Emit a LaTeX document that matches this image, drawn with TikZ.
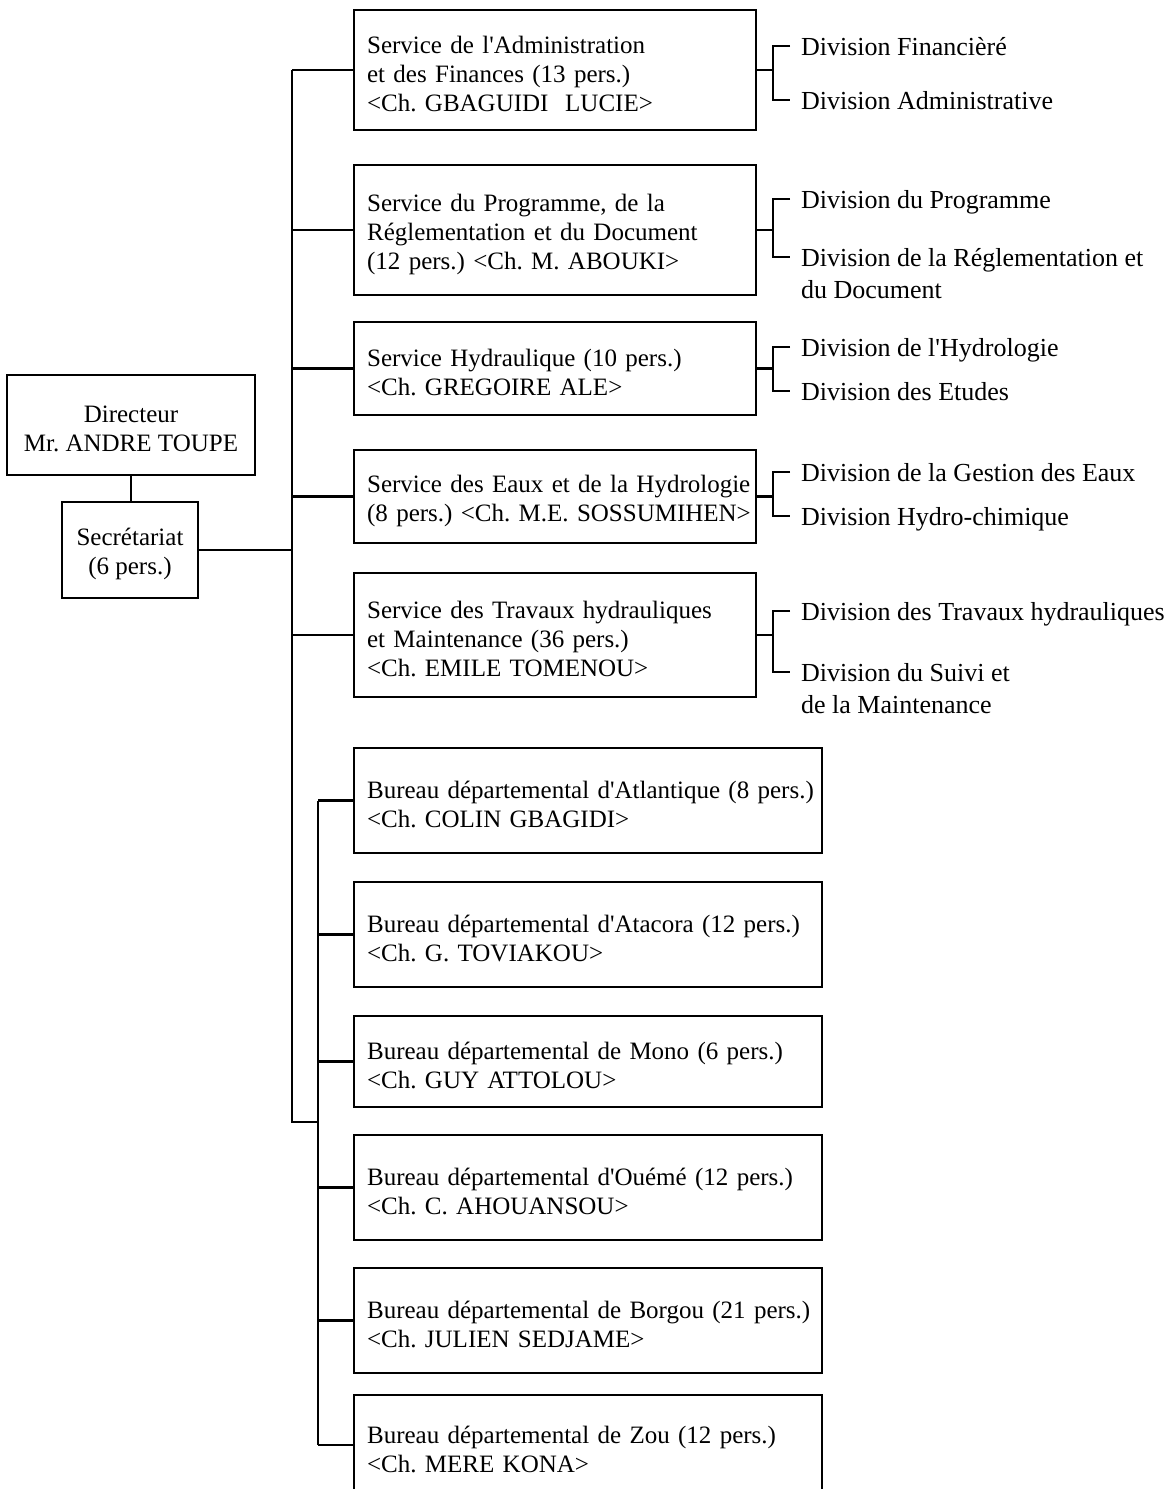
\documentclass[tikz,border=0pt]{standalone}
\usepackage{fontspec}
\setmainfont{Liberation Serif}
\frenchspacing
\usetikzlibrary{positioning,calc}

\begin{document}
\begin{tikzpicture}[
  x=0.5pt, y=-0.5pt,
  line width=1.1pt,
  every node/.style={font=\fontsize{12.5}{14.5}\selectfont},
  head/.style={draw,align=center,inner sep=2pt},
  svc/.style={draw,anchor=west,align=left,text width=188pt,inner xsep=6.5pt,
              execute at begin node=\rule{0pt}{13pt}},
  bur/.style={svc,text width=221pt},
  divn/.style={anchor=base west,align=left,inner xsep=5pt,
               font=\fontsize{13}{16}\selectfont}
]
\useasboundingbox (0,0) rectangle (1173,1489);
\clip (0,0) rectangle (1173,1489);

% direction
\node[head,minimum width=124pt,minimum height=50pt] (dir) at (131,425) {\rule{0pt}{12pt}Directeur\\Mr. ANDRE TOUPE};
\node[head,minimum width=68pt,minimum height=48pt]  (sec) at (130,550) {\rule{0pt}{13pt}Secrétariat\\(6 pers.)};

% services
\node[svc,minimum height=60pt]   (S1) at (353,70)    {Service de l\textquotesingle Administration\\et des Finances (13 pers.)\\<Ch. GBAGUIDI\ \ LUCIE>};
\node[svc,minimum height=65pt]   (S2) at (353,230)   {Service du Programme, de la\\\mbox{Réglementation et du Document}\\\mbox{(12 pers.) <Ch. M. ABOUKI>}};
\node[svc,minimum height=46.5pt] (S3) at (353,368.5) {Service Hydraulique (10 pers.)\\<Ch. GREGOIRE ALE>};
\node[svc,minimum height=46.5pt] (S4) at (353,496.5) {\mbox{Service des Eaux et de la Hydrologie}\\\mbox{(8 pers.) <Ch. M.E. SOSSUMIHEN>}};
\node[svc,minimum height=62pt]   (S5) at (353,635)   {Service des Travaux hydrauliques\\et Maintenance (36 pers.)\\<Ch. EMILE TOMENOU>};

% bureaux departementaux
\node[bur,minimum height=52.5pt] (B1) at (353,800.5)  {\mbox{Bureau départemental d\textquotesingle Atlantique (8 pers.)}\\<Ch. COLIN GBAGIDI>};
\node[bur,minimum height=52.5pt] (B2) at (353,934.5)  {\mbox{Bureau départemental d\textquotesingle Atacora (12 pers.)}\\<Ch. G. TOVIAKOU>};
\node[bur,minimum height=45.5pt] (B3) at (353,1061.5) {\mbox{Bureau départemental de Mono (6 pers.)}\\<Ch. GUY ATTOLOU>};
\node[bur,minimum height=52.5pt] (B4) at (353,1187.5) {\mbox{Bureau départemental d\textquotesingle Ouémé (12 pers.)}\\<Ch. C. AHOUANSOU>};
\node[bur,minimum height=52.5pt] (B5) at (353,1320.5) {\mbox{Bureau départemental de Borgou (21 pers.)}\\<Ch. JULIEN SEDJAME>};
\node[bur,minimum height=50pt]   (B6) at (353,1445)   {\mbox{Bureau départemental de Zou (12 pers.)}\\<Ch. MERE KONA>};

% divisions (base = last line)
\node[divn] (D1a) at (790,55)  {Division Financièré};
\node[divn] (D1b) at (790,109) {Division Administrative};
\node[divn] (D2a) at (790,208) {Division du Programme};
\node[divn] (D2b) at (790,298) {Division de la Réglementation et\\du Document};
\node[divn] (D3a) at (790,356) {Division de l\textquotesingle Hydrologie};
\node[divn] (D3b) at (790,400) {Division des Etudes};
\node[divn] (D4a) at (790,481) {Division de la Gestion des Eaux};
\node[divn] (D4b) at (790,525) {Division Hydro-chimique};
\node[divn] (D5a) at (790,620) {Division des Travaux hydrauliques};
\node[divn] (D5b) at (790,713) {Division du Suivi et\\de la Maintenance};

% trunks
\coordinate (t1) at (292,0);
\coordinate (t2) at (318,0);
\coordinate (jn) at (292,1122);
\draw (dir.south) -- (dir.south |- sec.north);
\draw (sec.east) -- (sec.east -| t1);
\draw (S1.west -| t1) -- (jn) -- (jn -| t2);
\draw (B1.west -| t2) -- (B6.west -| t2);
\foreach \n in {S1,S2,S3,S4,S5}
  \draw (\n.west) -- (\n.west -| t1);
\foreach \n in {B1,B2,B3,B4,B5,B6}
  \draw (\n.west) -- (\n.west -| t2);

% brackets to the divisions
\coordinate (br) at (773,0);
\foreach \s/\a/\b/\o in {S1/D1a/D1b/0,S2/D2a/D2b/32,S3/D3a/D3b/0,S4/D4a/D4b/0,S5/D5a/D5b/32}{
  \draw (\s.east) -- (\s.east -| br);
  \draw ($(\a.base west)+(0,-9)$) -| ($(\b.base west)+(-17,-9-\o)$) -- ($(\b.base west)+(0,-9-\o)$);
}
\end{tikzpicture}
\end{document}
